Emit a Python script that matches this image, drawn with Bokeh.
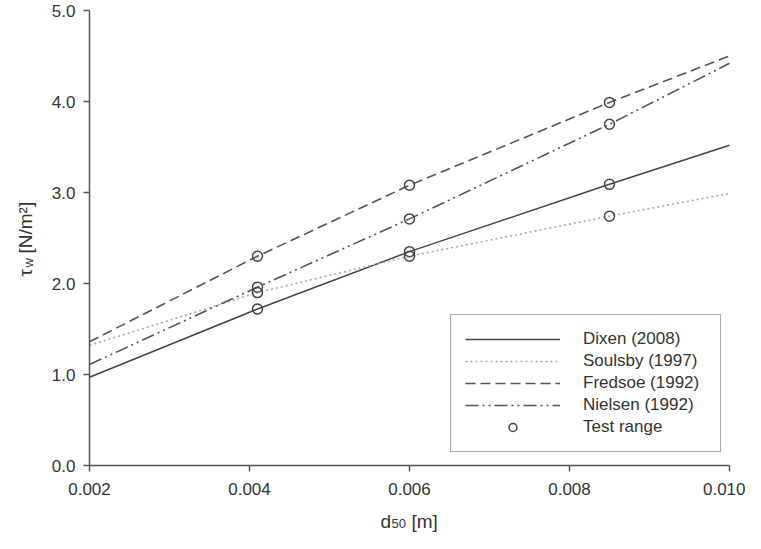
import math
from bokeh.plotting import figure
from bokeh.models import (Range1d, FixedTicker, PrintfTickFormatter, Legend,
                          LegendItem, Label)
from bokeh.embed import file_html
from bokeh.resources import INLINE

# ---- data ----
d50 = [0.002, 0.0041, 0.006, 0.0085, 0.010]
dixen = [0.97, 1.72, 2.35, 3.09, 3.52]
soulsby = [1.32, 1.90, 2.30, 2.74, 2.99]
fredsoe = [1.36, 2.30, 3.08, 3.99, 4.50]
nielsen = [1.11, 1.96, 2.71, 3.75, 4.42]
test_idx = [1, 2, 3]  # test-range points are at d50 = 0.0041, 0.006, 0.0085
x_ticks = [0.002, 0.004, 0.006, 0.008, 0.010]
y_ticks = [0.0, 1.0, 2.0, 3.0, 4.0, 5.0]
series_names = ["Dixen (2008)", "Soulsby (1997)", "Fredsoe (1992)", "Nielsen (1992)"]

FONT = "Liberation Sans"
TXT = "#333333"
AX = "#555555"

# ---- layout: the frame covers the whole canvas, axes are pinned in place ----
W, H = 745, 533
PL, PR, PT, PB = 89, 16, 10, 68         # pixel margins around the data area
xmin, xmax = x_ticks[0], x_ticks[-1]
ymin, ymax = y_ticks[0], y_ticks[-1]
xs = (xmax - xmin) / (W - PL - PR)
ys = (ymax - ymin) / (H - PT - PB)
x_range = Range1d(xmin - PL * xs, xmax + PR * xs)
y_range = Range1d(ymin - PB * ys, ymax + PT * ys)

def px(fx, fy):
    """canvas pixel -> data coordinates (for placing text only)"""
    return x_range.start + fx * xs, y_range.end - fy * ys

p = figure(width=W, height=H, x_range=x_range, y_range=y_range,
           output_backend="svg", toolbar_location=None, min_border=0)
p.outline_line_color = None
p.xgrid.visible = False
p.ygrid.visible = False
p.background_fill_color = "white"
p.border_fill_color = "white"

p.xaxis.fixed_location = ymin
p.xaxis.bounds = (xmin, xmax)
p.yaxis.fixed_location = xmin
p.yaxis.bounds = (ymin, ymax)

for ax in (p.xaxis[0], p.yaxis[0]):
    ax.axis_line_color = AX
    ax.axis_line_width = 1.5
    ax.major_tick_line_color = AX
    ax.major_tick_line_width = 1.5
    ax.major_tick_out = 6
    ax.major_tick_in = 0
    ax.minor_tick_line_color = None
    ax.major_label_text_font = FONT
    ax.major_label_text_font_size = "17px"
    ax.major_label_text_color = TXT

p.xaxis.ticker = FixedTicker(ticks=x_ticks)
p.yaxis.ticker = FixedTicker(ticks=y_ticks)
p.xaxis.formatter = PrintfTickFormatter(format="%.3f")
p.yaxis.formatter = PrintfTickFormatter(format="%.1f")
p.xaxis.major_label_standoff = 11
p.yaxis.major_label_standoff = 8

styles = [
    dict(line_color="#444444", line_width=1.5, line_dash="solid"),
    dict(line_color="#aaaaaa", line_width=1.6, line_dash="2 3"),
    dict(line_color="#555555", line_width=1.6, line_dash="10 5"),
    dict(line_color="#555555", line_width=1.6, line_dash="13 4 2 4 2 4"),
]
series = [dixen, soulsby, fredsoe, nielsen]
items = []
for name, yv, st in zip(series_names, series, styles):
    r = p.line(d50, yv, **st)
    items.append(LegendItem(label=name, renderers=[r]))

tx = [d50[i] for yv in series for i in test_idx]
ty = [yv[i] for yv in series for i in test_idx]
rc = p.scatter(tx, ty, marker="circle", size=10, fill_color=None,
               line_color="#444444", line_width=1.5)
items.append(LegendItem(label="Test range", renderers=[rc]))

legend = Legend(items=items, location=(450, 81), orientation="vertical",
                glyph_width=95, glyph_height=20, label_height=20,
                label_width=123, label_standoff=23, padding=14, spacing=2,
                margin=0,
                label_text_font=FONT, label_text_font_size="17px",
                label_text_color=TXT,
                border_line_color=AX, border_line_width=1.5,
                background_fill_color="white", background_fill_alpha=1.0)
p.add_layout(legend, "center")

# ---- axis titles with subscripts ----
def lab(fx, fy, text, size, angle=0.0):
    x, y = px(fx, fy)
    p.add_layout(Label(x=x, y=y, text=text, angle=angle, text_font=FONT,
                       text_font_size=size, text_color=TXT, text_align="left",
                       text_baseline="alphabetic"))

lab(380, 521, "d", "19px")
lab(391, 523, "50", "13px")
lab(411, 521, "[m]", "19px")

A = math.pi / 2
lab(25, 276, "τ", "19px", A)
lab(28, 267, "w", "13px", A)
lab(25, 253, "[N/m²]", "19px", A)

open("out.html", "w").write(file_html(p, INLINE))
